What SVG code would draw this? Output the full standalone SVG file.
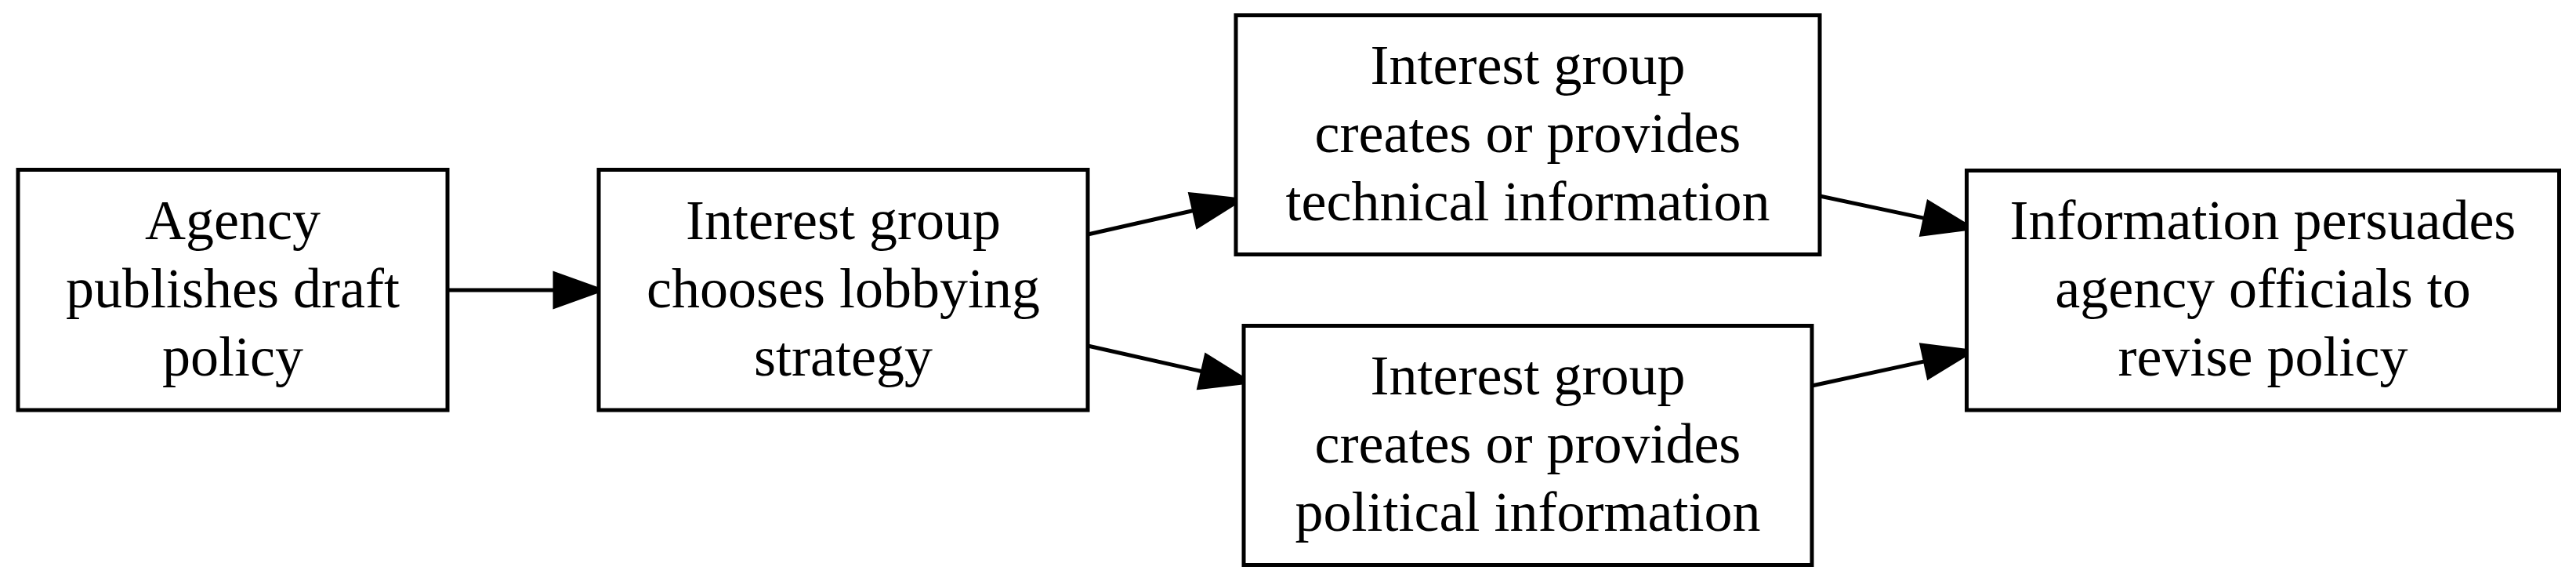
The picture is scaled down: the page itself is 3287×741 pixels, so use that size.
<svg xmlns="http://www.w3.org/2000/svg" width="3287" height="741" viewBox="0 0 3287 741">
<style>
.box{fill:#fff;stroke:#000;stroke-width:5}
.lbl{font-family:"Liberation Serif","Times New Roman",serif;font-size:72px;text-anchor:middle;fill:#000}
.edge line{stroke:#000;stroke-width:5}
.edge polygon{fill:#000;stroke:#000;stroke-width:5;stroke-linejoin:miter}
</style>
<rect width="3287" height="741" fill="#fff"/>
<g id="edges" class="edge">
<line x1="571" y1="370" x2="708" y2="370"/>
<polygon points="708,349 766,370 708,391"/>
<line x1="1388" y1="299" x2="1524" y2="268.3"/>
<polygon points="1528.1,288.8 1582,255 1518.9,247.8"/>
<line x1="1388" y1="441" x2="1535" y2="474"/>
<polygon points="1529.9,494.4 1593,487 1539.1,453.4"/>
<line x1="2322" y1="250" x2="2457" y2="278.6"/>
<polygon points="2451.9,299 2515,291 2460.7,258"/>
<line x1="2312" y1="492" x2="2457" y2="460.6"/>
<polygon points="2460.9,481.2 2515,448 2452,440.2"/>
</g>
<g id="n1">
<rect class="box" x="23" y="216.5" width="548" height="306.5"/>
<text class="lbl" x="297" y="305">Agency</text>
<text class="lbl" x="297" y="392">publishes draft</text>
<text class="lbl" x="297" y="479">policy</text>
</g>
<g id="n2">
<rect class="box" x="764" y="216.5" width="624" height="306.5"/>
<text class="lbl" x="1076" y="305">Interest group</text>
<text class="lbl" x="1076" y="392">chooses lobbying</text>
<text class="lbl" x="1076" y="479">strategy</text>
</g>
<g id="n3">
<rect class="box" x="1577" y="19.5" width="745" height="305"/>
<text class="lbl" x="1949.5" y="107">Interest group</text>
<text class="lbl" x="1949.5" y="194">creates or provides</text>
<text class="lbl" x="1949.5" y="281">technical information</text>
</g>
<g id="n4">
<rect class="box" x="1587" y="415.5" width="725" height="305"/>
<text class="lbl" x="1949.5" y="503">Interest group</text>
<text class="lbl" x="1949.5" y="590">creates or provides</text>
<text class="lbl" x="1949.5" y="677">political information</text>
</g>
<g id="n5">
<rect class="box" x="2509.5" y="217.5" width="756" height="305.5"/>
<text class="lbl" x="2887.5" y="305">Information persuades</text>
<text class="lbl" x="2887.5" y="392">agency officials to</text>
<text class="lbl" x="2887.5" y="479">revise policy</text>
</g>
</svg>
